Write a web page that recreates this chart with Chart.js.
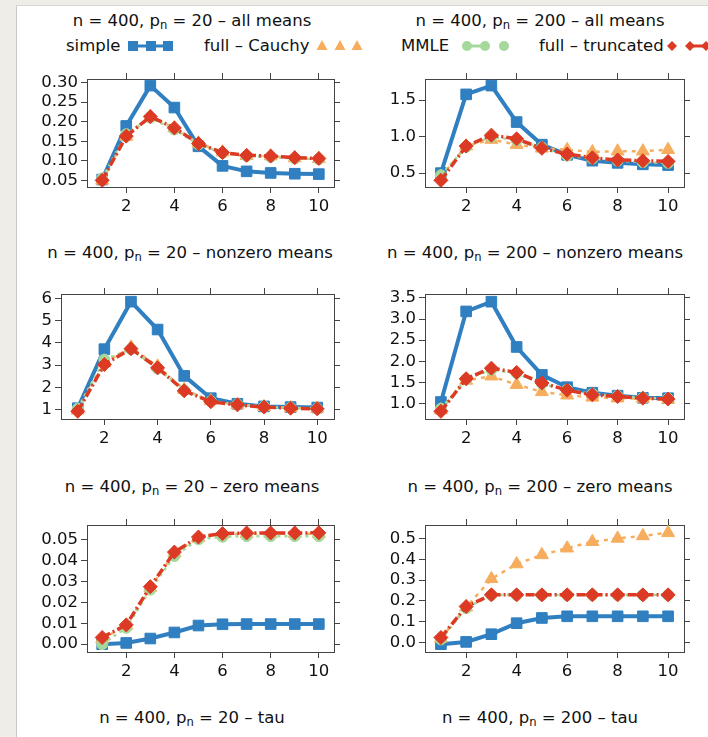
<!DOCTYPE html>
<html>
<head>
<meta charset="utf-8">
<script src="https://cdn.jsdelivr.net/npm/chart.js@4.4.0/dist/chart.umd.min.js"></script>
<style>
  html, body { margin: 0; padding: 0; background: #eeede8; }
  body { width: 708px; height: 737px; overflow: hidden; position: relative;
         font-family: "DejaVu Sans", sans-serif; color: #111; }
  #sheet { position: absolute; left: 16px; top: 5px; width: 700px; height: 740px;
           background: #fff; border-left: 1px solid #c9c9c9; border-top: 1px solid #d6d6d6; }
  .lbl { position: absolute; font-size: 16.5px; line-height: 20px; white-space: nowrap; }
  .title { transform: translateX(-50%); }
  sub { font-size: 70%; vertical-align: -0.25em; line-height: 0; }
  canvas, svg { position: absolute; }
</style>
</head>
<body>
<div id="sheet"></div>

<div class="lbl title" style="left:192px; top:11px">n = 400, p<sub>n</sub> = 20 – all means</div>
<div class="lbl title" style="left:540px; top:11px">n = 400, p<sub>n</sub> = 200 – all means</div>
<div class="lbl title" style="left:190px; top:243px">n = 400, p<sub>n</sub> = 20 – nonzero means</div>
<div class="lbl title" style="left:535px; top:243px">n = 400, p<sub>n</sub> = 200 – nonzero means</div>
<div class="lbl title" style="left:192px; top:477px">n = 400, p<sub>n</sub> = 20 – zero means</div>
<div class="lbl title" style="left:540px; top:477px">n = 400, p<sub>n</sub> = 200 – zero means</div>
<div class="lbl title" style="left:192px; top:708px">n = 400, p<sub>n</sub> = 20 – tau</div>
<div class="lbl title" style="left:540px; top:708px">n = 400, p<sub>n</sub> = 200 – tau</div>

<!-- shared key -->
<div class="lbl" style="left:66px; top:36px">simple</div>
<div class="lbl" style="left:204px; top:36px">full – Cauchy</div>
<div class="lbl" style="left:401px; top:36px">MMLE</div>
<div class="lbl" style="left:539px; top:36px">full – truncated</div>
<svg width="708" height="20" style="left:0; top:36px">
  <line x1="133" y1="10" x2="168" y2="10" stroke="#2f7fc1" stroke-width="3"/>
  <rect x="128" y="5" width="10" height="10" fill="#2f7fc1"/>
  <rect x="146" y="5" width="10" height="10" fill="#2f7fc1"/>
  <rect x="163" y="5" width="10" height="10" fill="#2f7fc1"/>
  <polygon points="322,4 327.5,14 316.5,14" fill="#f7ad5e"/>
  <polygon points="340,4 345.5,14 334.5,14" fill="#f7ad5e"/>
  <polygon points="357,4 362.5,14 351.5,14" fill="#f7ad5e"/>
  <line x1="467" y1="10" x2="485" y2="10" stroke="#a5d99c" stroke-width="3"/>
  <circle cx="467" cy="10" r="5" fill="#a5d99c"/>
  <circle cx="485" cy="10" r="5" fill="#a5d99c"/>
  <circle cx="504" cy="10" r="5" fill="#a5d99c"/>
  <line x1="690" y1="10" x2="708" y2="10" stroke="#dc3a24" stroke-width="3"/>
  <polygon points="672,5 677,10 672,15 667,10" fill="#dc3a24"/>
  <polygon points="690,5 695,10 690,15 685,10" fill="#dc3a24"/>
  <polygon points="706,5 711,10 706,15 701,10" fill="#dc3a24"/>
</svg>

<script>
// ---- data ----
const steps = [1, 2, 3, 4, 5, 6, 7, 8, 9, 10];
const xTicks = [2, 4, 6, 8, 10];
const seriesNames = ['simple', 'full – Cauchy', 'MMLE', 'full – truncated'];

// p = 20, all means
const simple20All = [0.052, 0.189, 0.292, 0.236, 0.137, 0.087, 0.073, 0.069, 0.067, 0.066];
const cauchy20All = [0.050, 0.162, 0.212, 0.184, 0.145, 0.122, 0.113, 0.112, 0.107, 0.105];
const mmle20All   = [0.055, 0.168, 0.210, 0.180, 0.142, 0.120, 0.112, 0.110, 0.106, 0.104];
const trunc20All  = [0.050, 0.163, 0.213, 0.184, 0.144, 0.121, 0.114, 0.112, 0.108, 0.106];
const yLabels20All = ['0.05', '0.10', '0.15', '0.20', '0.25', '0.30'];

// p = 200, all means
const simple200All = [0.50, 1.58, 1.70, 1.20, 0.89, 0.75, 0.67, 0.64, 0.62, 0.61];
const cauchy200All = [0.45, 0.87, 0.96, 0.89, 0.84, 0.82, 0.79, 0.80, 0.80, 0.82];
const mmle200All   = [0.47, 0.86, 1.00, 0.95, 0.85, 0.74, 0.70, 0.67, 0.65, 0.64];
const trunc200All  = [0.40, 0.87, 1.02, 0.97, 0.84, 0.76, 0.71, 0.68, 0.67, 0.66];
const yLabels200All = ['0.5', '1.0', '1.5'];

// p = 20, nonzero means
const simple20Nz = [1.07, 3.72, 5.85, 4.60, 2.52, 1.52, 1.27, 1.15, 1.12, 1.10];
const cauchy20Nz = [0.98, 3.10, 3.80, 2.95, 1.90, 1.40, 1.22, 1.13, 1.08, 1.06];
const mmle20Nz   = [1.05, 3.25, 3.72, 2.85, 1.88, 1.38, 1.24, 1.14, 1.09, 1.05];
const trunc20Nz  = [0.93, 3.03, 3.74, 2.88, 1.85, 1.36, 1.22, 1.12, 1.07, 1.04];
const yLabels20Nz = ['1', '2', '3', '4', '5', '6'];

// p = 200, nonzero means
const simple200Nz = [1.04, 3.18, 3.41, 2.34, 1.68, 1.39, 1.26, 1.19, 1.14, 1.13];
const cauchy200Nz = [0.85, 1.55, 1.65, 1.45, 1.28, 1.20, 1.15, 1.13, 1.12, 1.10];
const mmle200Nz   = [0.88, 1.58, 1.80, 1.72, 1.47, 1.33, 1.23, 1.18, 1.14, 1.12];
const trunc200Nz  = [0.82, 1.59, 1.84, 1.74, 1.49, 1.32, 1.21, 1.17, 1.13, 1.11];
const yLabels200Nz = ['1.0', '1.5', '2.0', '2.5', '3.0', '3.5'];

// p = 20, zero means
const simple20Zero = [0.0000, 0.0006, 0.0027, 0.0056, 0.0089, 0.0095, 0.0096, 0.0096, 0.0096, 0.0096];
const cauchy20Zero = [0.0025, 0.0090, 0.0270, 0.0435, 0.0508, 0.0524, 0.0527, 0.0527, 0.0527, 0.0527];
const mmle20Zero   = [0.0000, 0.0078, 0.0260, 0.0420, 0.0500, 0.0512, 0.0515, 0.0515, 0.0515, 0.0515];
const trunc20Zero  = [0.0032, 0.0092, 0.0274, 0.0439, 0.0511, 0.0527, 0.0530, 0.0530, 0.0530, 0.0531];
const yLabels20Zero = ['0.00', '0.01', '0.02', '0.03', '0.04', '0.05'];

// p = 200, zero means
const simple200Zero = [-0.008, 0.003, 0.040, 0.093, 0.118, 0.126, 0.126, 0.126, 0.126, 0.126];
const cauchy200Zero = [0.020, 0.170, 0.306, 0.377, 0.421, 0.453, 0.484, 0.500, 0.512, 0.527];
const mmle200Zero   = [0.015, 0.165, 0.228, 0.228, 0.228, 0.228, 0.228, 0.228, 0.228, 0.228];
const trunc200Zero  = [0.024, 0.173, 0.229, 0.229, 0.229, 0.229, 0.229, 0.229, 0.229, 0.229];
const yLabels200Zero = ['0.0', '0.1', '0.2', '0.3', '0.4', '0.5'];

// ---- look ----
const styles = [
    { color: '#2f7fc1', point: 'rect',     radius: 7.5, width: 4,   dash: [],           order: 3 },
    { color: '#f7ad5e', point: 'triangle', radius: 7.5, width: 2.5, dash: [4, 5],       order: 2 },
    { color: '#a5d99c', point: 'circle',   radius: 5.5, width: 2.5, dash: [3, 4],       order: 1 },
    { color: '#dc3a24', point: 'rectRot',  radius: 7,   width: 3.5, dash: [9, 3, 2, 3], order: 0 }
];
const tickFont = { family: 'DejaVu Sans', size: 16.5 };
const axisColor = '#444';

// plot box [left, top, right, bottom] in page pixels
const panels = [
    { series: [simple20All, cauchy20All, mmle20All, trunc20All],     yLabels: yLabels20All,   box: [87, 79, 334, 187] },
    { series: [simple200All, cauchy200All, mmle200All, trunc200All], yLabels: yLabels200All,  box: [425, 79, 684, 187] },
    { series: [simple20Nz, cauchy20Nz, mmle20Nz, trunc20Nz],         yLabels: yLabels20Nz,    box: [61, 294, 334, 419] },
    { series: [simple200Nz, cauchy200Nz, mmle200Nz, trunc200Nz],     yLabels: yLabels200Nz,   box: [425, 294, 684, 419] },
    { series: [simple20Zero, cauchy20Zero, mmle20Zero, trunc20Zero], yLabels: yLabels20Zero,  box: [87, 525, 334, 652] },
    { series: [simple200Zero, cauchy200Zero, mmle200Zero, trunc200Zero], yLabels: yLabels200Zero, box: [425, 525, 684, 652] }
];

const TOP_H = 14, BOT_H = 34, RIGHT_W = 9;

function makePanel(p) {
    const [L, T, R, B] = p.box;
    const colLeft = L < 380 ? 20 : 365;
    const w = R + RIGHT_W - colLeft;
    const h = TOP_H + (B - T) + BOT_H;
    const cv = document.createElement('canvas');
    cv.width = w; cv.height = h;
    cv.style.left = colLeft + 'px';
    cv.style.top = (T - TOP_H) + 'px';
    cv.style.width = w + 'px';
    cv.style.height = h + 'px';
    document.body.appendChild(cv);

    // lattice-style range: data extent padded by 7%
    const all = p.series.flat();
    const lo = Math.min(...all), hi = Math.max(...all);
    const pad = (hi - lo) * 0.07;
    const yTicks = p.yLabels.map(Number);

    const grid = { drawOnChartArea: false, drawTicks: true, tickLength: 6, color: axisColor, lineWidth: 1 };
    const border = { display: true, color: axisColor, width: 1 };
    const xRange = { type: 'linear', min: 0.37, max: 10.63 };
    const yRange = { type: 'linear', min: lo - pad, max: hi + pad };

    new Chart(cv, {
        type: 'line',
        data: {
            datasets: p.series.map((vals, k) => ({
                label: seriesNames[k],
                data: steps.map((x, i) => ({ x: x, y: vals[i] })),
                borderColor: styles[k].color,
                backgroundColor: styles[k].color,
                borderWidth: styles[k].width,
                borderDash: styles[k].dash,
                pointStyle: styles[k].point,
                pointRadius: styles[k].radius,
                pointBackgroundColor: styles[k].color,
                pointBorderColor: styles[k].color,
                pointBorderWidth: 1,
                tension: 0,
                fill: false,
                order: styles[k].order
            }))
        },
        options: {
            responsive: false,
            animation: false,
            devicePixelRatio: 1,
            layout: { padding: 0, autoPadding: false },
            plugins: { legend: { display: false }, title: { display: false }, tooltip: { enabled: false } },
            scales: {
                x: { ...xRange, position: 'bottom', grid, border,
                     afterBuildTicks: s => { s.ticks = xTicks.map(v => ({ value: v })); },
                     afterFit: s => { s.height = BOT_H; },
                     ticks: { color: '#111', font: tickFont, padding: 4, maxRotation: 0, autoSkip: false } },
                x2: { ...xRange, position: 'top', grid, border,
                     afterBuildTicks: s => { s.ticks = xTicks.map(v => ({ value: v })); },
                     afterFit: s => { s.height = TOP_H; },
                     ticks: { display: false } },
                y: { ...yRange, position: 'left', grid, border,
                     afterBuildTicks: s => { s.ticks = yTicks.map(v => ({ value: v })); },
                     afterFit: s => { s.width = L - colLeft; },
                     ticks: { color: '#111', font: tickFont, padding: 3, autoSkip: false,
                              callback: (v, i) => p.yLabels[i] } },
                y2: { ...yRange, position: 'right', grid, border,
                     afterBuildTicks: s => { s.ticks = yTicks.map(v => ({ value: v })); },
                     afterFit: s => { s.width = RIGHT_W; },
                     ticks: { display: false } }
            }
        }
    });
}

panels.forEach(makePanel);
</script>
</body>
</html>
